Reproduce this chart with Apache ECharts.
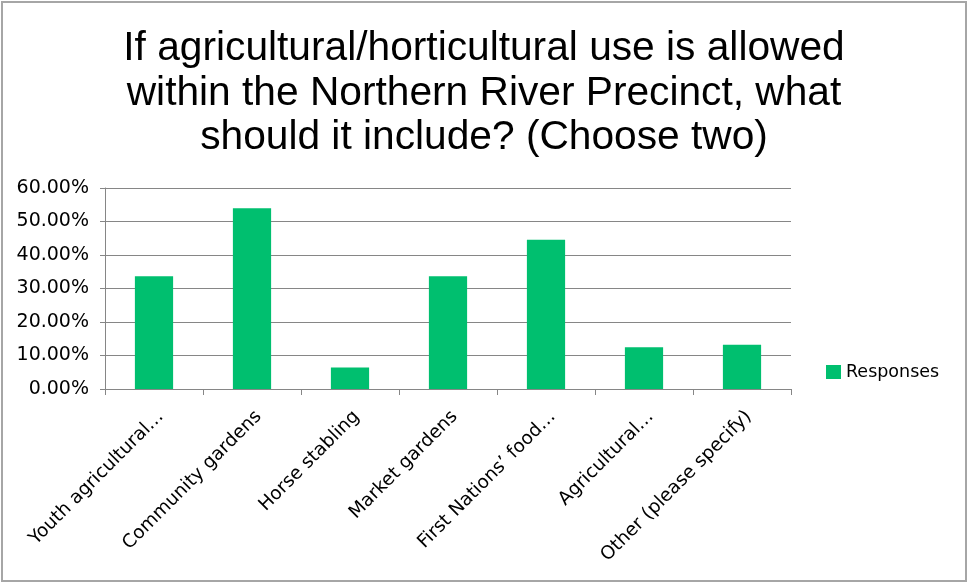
<!DOCTYPE html>
<html>
<head>
<meta charset="utf-8">
<script src="https://cdn.jsdelivr.net/npm/echarts@6/dist/echarts.min.js"></script>
<style>
html,body{margin:0;padding:0;background:#fff;}
#chart{width:974px;height:585px;}
</style>
</head>
<body>
<div id="chart"></div>
<script>
const titleText = 'If agricultural/horticultural use is allowed\nwithin the Northern River Precinct, what\nshould it include? (Choose two)';
const categories = ['Youth agricultural…', 'Community gardens', 'Horse stabling', 'Market gardens', 'First Nations’ food…', 'Agricultural…', 'Other (please specify)'];
const responses = [0.3366, 0.5396, 0.0644, 0.3366, 0.4455, 0.1250, 0.1320];
const seriesName = 'Responses';

const chart = echarts.init(document.getElementById('chart'), null, {renderer: 'canvas'});
chart.setOption({
  backgroundColor: '#ffffff',
  animation: false,
  graphic: [{
    type: 'rect', shape: {x: 2, y: 2, width: 964, height: 579},
    style: {fill: 'none', stroke: '#a6a6a6', lineWidth: 2}, z: 0
  }],
  title: {
    text: titleText,
    left: 479, top: 22, textAlign: 'center',
    textStyle: {fontFamily: 'Liberation Sans', fontSize: 40.7, fontWeight: 'normal', color: '#000', lineHeight: 44.5}
  },
  legend: {
    data: [seriesName], left: 826, top: 363, padding: 0, icon: 'rect', itemWidth: 15, itemHeight: 14, itemGap: 5,
    textStyle: {fontFamily: 'DejaVu Sans', fontSize: 17.5, color: '#000', padding: [0,0,0,0]}
  },
  grid: {left: 105, right: 183, top: 188, bottom: 196, containLabel: false},
  xAxis: {
    type: 'category', data: categories, boundaryGap: true,
    axisLine: {lineStyle: {color: '#868686', width: 1}},
    axisTick: {show: true, length: 6, alignWithLabel: false, lineStyle: {color: '#868686'}},
    axisLabel: {rotate: 45, margin: 18, interval: 0, verticalAlign: 'top', padding: [0, 0, 0, 0],
      fontFamily: 'DejaVu Sans', fontSize: 18.5, color: '#000'}
  },
  yAxis: {
    type: 'value', min: 0, max: 0.6, interval: 0.1,
    axisLine: {show: true, lineStyle: {color: '#868686'}},
    axisTick: {show: true, length: 5, lineStyle: {color: '#868686'}},
    splitLine: {lineStyle: {color: '#868686', width: 1}},
    axisLabel: {formatter: v => (v * 100).toFixed(2) + '%', margin: 16, fontFamily: 'DejaVu Sans', fontSize: 19, color: '#000'}
  },
  series: [{
    name: seriesName, type: 'bar', data: responses, barWidth: '39%',
    itemStyle: {color: '#00BF6F'}
  }]
});
</script>
</body>
</html>
